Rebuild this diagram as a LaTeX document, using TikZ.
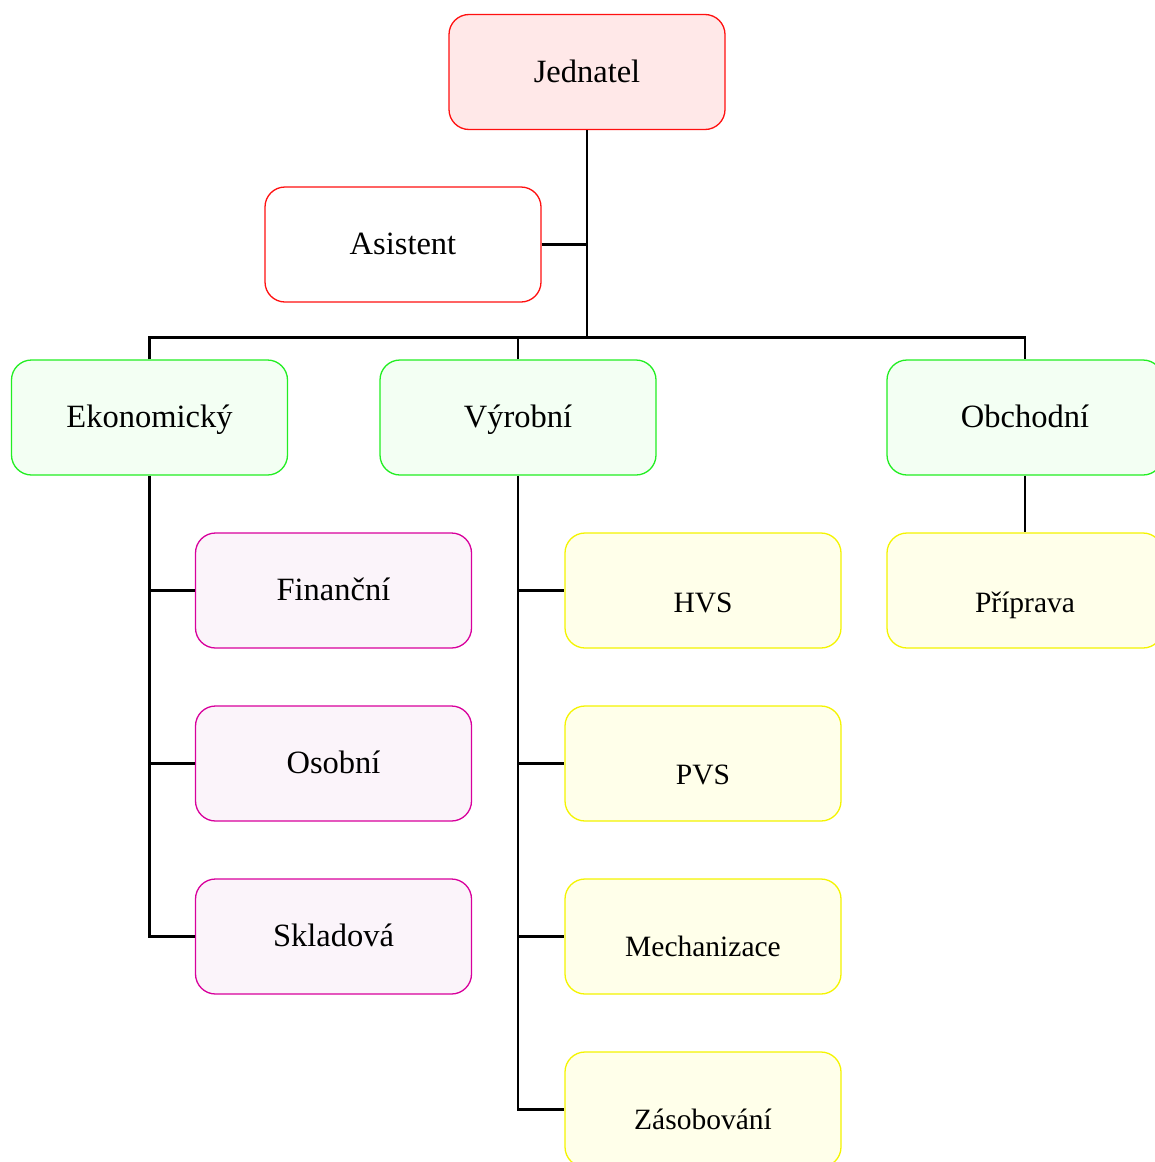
\documentclass[tikz,border=0pt]{standalone}
\usepackage{fontspec}
\setmainfont{Liberation Serif}
\definecolor{jfill}{HTML}{FFE8E8}
\definecolor{jdraw}{HTML}{FF1010}
\definecolor{gfill}{HTML}{F3FFF3}
\definecolor{gdraw}{HTML}{22EE22}
\definecolor{mfill}{HTML}{FBF4FA}
\definecolor{mdraw}{HTML}{D8009C}
\definecolor{yfill}{HTML}{FFFFEA}
\definecolor{ydraw}{HTML}{F4F400}
\tikzset{
  box/.style={rectangle, rounded corners=20pt, minimum width=276pt, minimum height=115pt, inner sep=0pt, line width=1.3pt, text height=20pt, text depth=0pt, font=\fontsize{32.5}{38}\selectfont},
  redbox/.style={box, draw=jdraw, fill=jfill},
  asbox/.style={box, draw=jdraw, fill=white},
  greenbox/.style={box, draw=gdraw, fill=gfill},
  magbox/.style={box, draw=mdraw, fill=mfill},
  yelbox/.style={box, draw=ydraw, fill=yfill},
  ytext/.style={font=\fontsize{29.5}{34}\selectfont, inner sep=0pt, text height=19pt, text depth=0pt},
  link/.style={line width=2.4pt, black}
}
\begin{document}
\begin{tikzpicture}[x=1pt,y=-1pt]
\useasboundingbox (0,0) rectangle (1155,1162);
\clip (0,0) rectangle (1155,1162);
\node[redbox] (J) at (587,72) {Jednatel};
\node[asbox] (A) at (403,244.5) {Asistent};
\node[greenbox] (E) at (149.5,417.5) {Ekonomický};
\node[greenbox] (V) at (518,417.5) {Výrobní};
\node[greenbox] (O) at (1025,417.5) {Obchodní};
\node[magbox] (F) at (333.5,590.5) {Finanční};
\node[magbox] (Os) at (333.5,763.5) {Osobní};
\node[magbox] (S) at (333.5,936.5) {Skladová};
\node[yelbox] (H) at (703,590.5) {};
\node[yelbox] (P) at (703,763.5) {};
\node[yelbox] (M) at (703,936.5) {};
\node[yelbox] (Z) at (703,1109.5) {};
\node[yelbox] (Pr) at (1025,590.5) {};
\node[ytext] (Ht) at (703,603) {HVS};
\node[ytext] (Pt) at (703,775) {PVS};
\node[ytext] (Mt) at (703,947) {Mechanizace};
\node[ytext] (Zt) at (703,1120) {Zásobování};
\node[ytext] (Prt) at (1025,603) {Příprava};
\coordinate (bus) at (587,337.5);
\draw[link] (J.south) -- (bus);
\draw[link] (A.east) -- (A.east -| J.south);
\draw[link] (E.north) -- (E.north |- bus) -- (O.north |- bus) -- (O.north);
\draw[link] (V.north) -- (V.north |- bus);
\draw[link] (E.south) |- (S.west);
\draw[link] (E.south |- F.west) -- (F.west);
\draw[link] (E.south |- Os.west) -- (Os.west);
\draw[link] (V.south) |- (Z.west);
\draw[link] (V.south |- H.west) -- (H.west);
\draw[link] (V.south |- P.west) -- (P.west);
\draw[link] (V.south |- M.west) -- (M.west);
\draw[link] (O.south) -- (Pr.north);
\end{tikzpicture}
\end{document}
